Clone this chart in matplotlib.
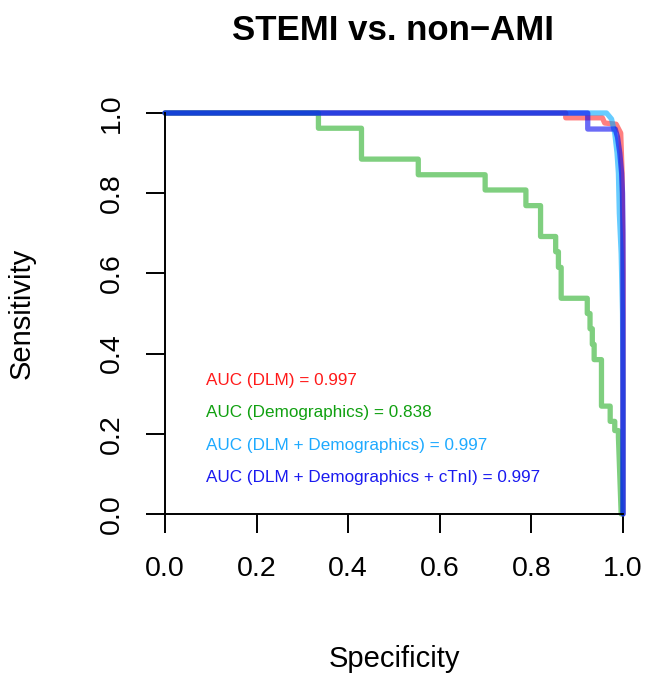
import matplotlib
matplotlib.use("Agg")
import matplotlib.pyplot as plt

plt.rcParams['font.family'] = ['Liberation Sans', 'DejaVu Sans']

# ROC staircase points (specificity, sensitivity)
dlm_spec = [0.0, 0.875, 0.875, 0.955, 0.960, 0.985, 0.995, 0.998, 1.0, 1.0]
dlm_sens = [1.0, 1.0, 0.988, 0.988, 0.975, 0.972, 0.950, 0.850, 0.600, 0.0]

demo_spec = [0.0, 0.335, 0.335, 0.429, 0.429, 0.553, 0.553, 0.699, 0.699, 0.788, 0.788,
             0.820, 0.820, 0.853, 0.853, 0.859, 0.859, 0.865, 0.865, 0.922, 0.922,
             0.928, 0.928, 0.933, 0.933, 0.937, 0.937, 0.953, 0.953, 0.972, 0.972,
             0.982, 0.982, 0.990, 0.990, 0.996]
demo_sens = [1.0, 1.0, 0.962, 0.962, 0.885, 0.885, 0.846, 0.846, 0.808, 0.808, 0.769,
             0.769, 0.692, 0.692, 0.654, 0.654, 0.615, 0.615, 0.538, 0.538, 0.500,
             0.500, 0.462, 0.462, 0.423, 0.423, 0.385, 0.385, 0.269, 0.269, 0.231,
             0.231, 0.208, 0.208, 0.192, 0.0]

dlmdemo_spec = [0.0, 0.964, 0.975, 0.982, 0.987, 0.990, 0.992, 0.996, 0.999, 1.0, 1.0]
dlmdemo_sens = [1.0, 1.0, 0.985, 0.950, 0.900, 0.850, 0.750, 0.650, 0.500, 0.300, 0.0]

full_spec = [0.0, 0.923, 0.923, 0.983, 0.988, 0.993, 0.997, 0.999, 1.0, 1.0]
full_sens = [1.0, 1.0, 0.960, 0.960, 0.940, 0.900, 0.850, 0.800, 0.700, 0.0]

labels = ["AUC (DLM) = 0.997",
          "AUC (Demographics) = 0.838",
          "AUC (DLM + Demographics) = 0.997",
          "AUC (DLM + Demographics + cTnI) = 0.997"]
text_colors = ['#FF1A1A', '#10A010', '#1EAAFF', '#1A1AF0']
line_colors = ['#FF0000', '#00A000', '#00AAFF', '#0000F0']
line_alpha = [0.5, 0.5, 0.6, 0.58]

fig = plt.figure(figsize=(6.47, 6.75), dpi=100)
ax = fig.add_axes([165 / 647, 161 / 675, 458 / 647, 401 / 675])

curves = [(dlm_spec, dlm_sens), (demo_spec, demo_sens),
          (dlmdemo_spec, dlmdemo_sens), (full_spec, full_sens)]
for (xs, ys), c, a in zip(curves, line_colors, line_alpha):
    ax.plot(xs, ys, color=c, alpha=a, lw=3.8, clip_on=False,
            solid_capstyle='round', solid_joinstyle='round')

text_y = [0.332, 0.253, 0.172, 0.092]
for lab, ty, c in zip(labels, text_y, text_colors):
    ax.text(0.09, ty, lab, color=c, fontsize=12.3, ha='left', va='center')

ax.set_xlim(0, 1)
ax.set_ylim(0, 1)
ticks = [0.0, 0.2, 0.4, 0.6, 0.8, 1.0]
ax.set_xticks(ticks)
ax.set_yticks(ticks)
ax.set_xticklabels([f"{t:.1f}" for t in ticks])
ax.set_yticklabels([f"{t:.1f}" for t in ticks], rotation=90, va='center')
ax.tick_params(axis='both', length=13.5, width=1.4, labelsize=20.5, direction='out')
ax.tick_params(axis='x', pad=16.5)
ax.tick_params(axis='y', pad=15.5)
for s in ['top', 'right']:
    ax.spines[s].set_visible(False)
for s in ['left', 'bottom']:
    ax.spines[s].set_linewidth(1.4)

fig.text(393 / 647, 1 - 31 / 675, "STEMI vs. non\u2212AMI", fontsize=25,
         fontweight='bold', ha='center', va='center')
fig.text(394 / 647, 1 - 667 / 675, "Specificity", fontsize=21,
         ha='center', va='baseline')
fig.text(22 / 647, 1 - 313 / 675, "Sensitivity", fontsize=21,
         ha='center', va='center', rotation=90)

fig.savefig("out.png", dpi=100)
